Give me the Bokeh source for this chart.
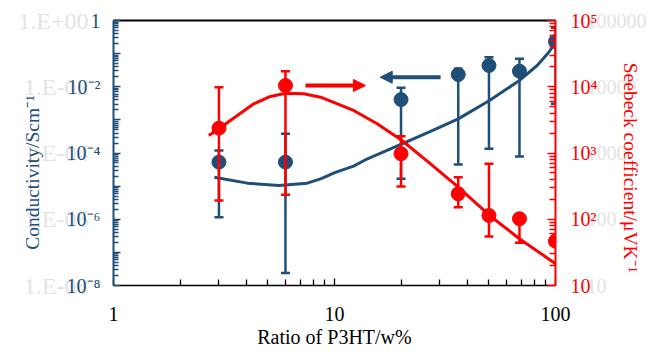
from bokeh.plotting import figure
from bokeh.models import Range1d, LogScale, LogAxis, FixedTicker, Arrow, NormalHead
from bokeh.embed import file_html
from bokeh.resources import INLINE

# ---------------- data ----------------
ratio = [3.0, 6.0, 20.0, 36.3, 50.0, 68.7, 100.0]

cond = [5.3e-5, 5.3e-5, 4.1e-3, 0.0234, 0.0438, 0.0295, 0.232]
cond_hi = [1.19e-4, 3.8e-4, 9.3e-3, 0.035, 0.078, 0.070, 0.6]
cond_lo = [1.15e-6, 2.4e-8, 1.66e-5, 4.5e-5, 1.34e-4, 7.8e-5, 3.05e-3]

seeb = [2370, 10450, 972, 242, 114, 102, 46.7]
seeb_hi = [9840, 17200, 1795, 431, 687, 110, 46.7]
seeb_lo = [192, 234, 312, 152, 55, 44, 46.7]

fit_cond_x = [2.86, 4.03, 5.6, 7.52, 8.65, 10.1, 12.2, 14.1, 20.2, 27.2, 36.3, 50.3, 68.7, 82.6, 93.3, 100]
fit_cond_y = [1.86e-5, 1.23e-5, 1.05e-5, 1.23e-5, 1.66e-5, 2.6e-5, 4.0e-5, 6.7e-5, 1.9e-4, 4.5e-4,
              1.07e-3, 3.85e-3, 0.0155, 0.0438, 0.110, 0.221]

fit_seeb_x = [2.70, 3.02, 4.31, 5.13, 6.0, 7.26, 8.65, 12.2, 15.6, 20.2, 27.2, 36.3, 50.3, 68.7, 100]
fit_seeb_y = [1837, 2366, 5530, 7130, 8000, 7830, 6950, 4390, 2760, 1545, 687, 305, 114, 50.7, 21.3]

arrow_red_x = [7.39, 13.8]
arrow_red_y = 10450
arrow_blue_x = [30.2, 16.1]
arrow_blue_y = 0.0194

x_ticks = [1.0, 10.0, 100.0]
x_labels = ["1", "10", "100"]

left_ticks = [1e-8, 1e-7, 1e-6, 1e-5, 1e-4, 1e-3, 1e-2, 1e-1, 1.0]
left_label_ticks = [1.0, 1e-2, 1e-4, 1e-6, 1e-8]
left_labels = ["1", "10\u207b\u00b2", "10\u207b\u2074", "10\u207b\u2076", "10\u207b\u2078"]
left_ghost = ["1.E+00", "1.E-02", "1.E-04", "1.E-06", "1.E-08"]

right_ticks = [10.0, 100.0, 1e3, 1e4, 1e5]
right_labels = ["10", "10\u00b2", "10\u00b3", "10\u2074", "10\u2075"]
right_ghost = ["10", "100", "1000", "10000", "100000"]

x_title = "Ratio of P3HT/w%"
left_title = "Conductivity/Scm\u207b\u00b9"
right_title = "Seebeck coefficient/\u03bcVK\u207b\u00b9"

# ---------------- style ----------------
BLUE = "#1F4E79"
RED = "#FF0000"
FONT = "Liberation Serif"
GHOST = "#e3e3e3"


def minor_between(ticks):
    out = []
    for t in ticks[:-1]:
        out += [t * k for k in range(2, 10)]
    return out


def overrides(all_ticks, lab_ticks, labels):
    ov = {t: "" for t in all_ticks}
    ov.update({t: l for t, l in zip(lab_ticks, labels)})
    return ov


def no_ticks(ax):
    ax.axis_line_color = None
    ax.major_tick_line_color = None
    ax.minor_tick_line_color = None
    ax.major_tick_in = 0
    ax.major_tick_out = 0
    ax.minor_tick_in = 0
    ax.minor_tick_out = 0


p = figure(width=649, height=354, x_axis_type="log", y_axis_type="log",
           x_range=Range1d(1, 100), y_range=Range1d(1e-8, 1),
           output_backend="svg", toolbar_location=None,
           min_border_left=113, min_border_right=94, min_border_top=20, min_border_bottom=69)
p.extra_y_ranges = {"seebeck": Range1d(10, 1e5)}
p.extra_y_scales = {"seebeck": LogScale()}
p.grid.visible = False
p.outline_line_color = None
p.background_fill_color = "white"
p.border_fill_color = "white"

# ---------------- bottom axis ----------------
xa = p.xaxis[0]
xa.ticker = FixedTicker(ticks=x_ticks, minor_ticks=minor_between(x_ticks))
xa.major_label_overrides = {t: l for t, l in zip(x_ticks, x_labels)}
xa.axis_line_color = "black"
xa.axis_line_width = 1.5
xa.major_tick_in = 7
xa.major_tick_out = 0
xa.minor_tick_in = 6
xa.minor_tick_out = 0
xa.major_tick_line_color = "black"
xa.minor_tick_line_color = "black"
xa.major_tick_line_width = 1.3
xa.minor_tick_line_width = 1.3
xa.major_label_text_font = FONT
xa.major_label_text_font_size = "20px"
xa.major_label_text_color = "black"
xa.major_label_standoff = 21
xa.axis_label = x_title
xa.axis_label_text_font = FONT
xa.axis_label_text_font_size = "20px"
xa.axis_label_text_font_style = "normal"
xa.axis_label_text_color = "black"
xa.axis_label_standoff = 2

# ---------------- left: inner axis (line, ticks, faint "1.E-0x" texts) ----------------
ya = p.yaxis[0]
ya.ticker = FixedTicker(ticks=left_ticks, minor_ticks=minor_between(left_ticks))
ya.major_label_overrides = overrides(left_ticks, left_label_ticks, left_ghost)
ya.axis_line_color = BLUE
ya.axis_line_width = 2
ya.major_tick_in = 7
ya.major_tick_out = 0
ya.minor_tick_in = 5
ya.minor_tick_out = 0
ya.major_tick_line_color = BLUE
ya.minor_tick_line_color = BLUE
ya.major_tick_line_width = 1.5
ya.minor_tick_line_width = 1.3
ya.major_label_text_font = FONT
ya.major_label_text_font_size = "24px"
ya.major_label_text_color = GHOST
ya.major_label_standoff = 25

# left: outer axis carrying the real tick labels and the title, pulled inwards
yb = LogAxis(ticker=FixedTicker(ticks=left_ticks, minor_ticks=[]))
no_ticks(yb)
yb.major_label_overrides = overrides(left_ticks, left_label_ticks, left_labels)
yb.major_label_text_font = FONT
yb.major_label_text_font_size = "20px"
yb.major_label_text_color = BLUE
yb.major_label_standoff = -85
yb.axis_label = left_title + "\u2003\u2003"
yb.axis_label_text_font = FONT
yb.axis_label_text_font_size = "19.5px"
yb.axis_label_text_font_style = "normal"
yb.axis_label_text_color = BLUE
yb.axis_label_standoff = 21
p.add_layout(yb, "left")

# ---------------- right: inner axis (line, ticks, faint texts) ----------------
ra = LogAxis(y_range_name="seebeck",
             ticker=FixedTicker(ticks=right_ticks, minor_ticks=minor_between(right_ticks)))
ra.major_label_overrides = {t: l for t, l in zip(right_ticks, right_ghost)}
ra.axis_line_color = RED
ra.axis_line_width = 2
ra.major_tick_in = 8
ra.major_tick_out = 0
ra.minor_tick_in = 6
ra.minor_tick_out = 0
ra.major_tick_line_color = RED
ra.minor_tick_line_color = RED
ra.major_tick_line_width = 1.5
ra.minor_tick_line_width = 1.3
ra.major_label_text_font = FONT
ra.major_label_text_font_size = "20px"
ra.major_label_text_color = GHOST
ra.major_label_standoff = 31
p.add_layout(ra, "right")

# right: outer axis with real labels and title
rb = LogAxis(y_range_name="seebeck", ticker=FixedTicker(ticks=right_ticks, minor_ticks=[]))
no_ticks(rb)
rb.major_label_overrides = {t: l for t, l in zip(right_ticks, right_labels)}
rb.major_label_text_font = FONT
rb.major_label_text_font_size = "20px"
rb.major_label_text_color = RED
rb.major_label_standoff = -79
rb.axis_label = "\u2003\u2002" + right_title
rb.axis_label_text_font = FONT
rb.axis_label_text_font_size = "19.5px"
rb.axis_label_text_font_style = "normal"
rb.axis_label_text_color = RED
rb.axis_label_standoff = 20
p.add_layout(rb, "right")

# top border
ta = LogAxis(ticker=FixedTicker(ticks=[]), axis_line_color="black", axis_line_width=2,
             major_tick_line_color=None, minor_tick_line_color=None,
             major_label_text_font_size="0px", major_label_standoff=0)
p.add_layout(ta, "above")

# ---------------- conductivity (blue) ----------------
p.segment(x0=ratio, y0=cond_lo, x1=ratio, y1=cond_hi, line_color=BLUE, line_width=2.5)
p.scatter(ratio + ratio, cond_lo + cond_hi, marker="dash", size=9, line_color=BLUE, line_width=2.5)
p.line(fit_cond_x, fit_cond_y, line_color=BLUE, line_width=3)
p.scatter(ratio, cond, size=14, fill_color=BLUE, line_color=BLUE)

# ---------------- Seebeck (red) ----------------
p.segment(x0=ratio, y0=seeb_lo, x1=ratio, y1=seeb_hi, line_color=RED, line_width=2.5,
          y_range_name="seebeck")
p.scatter(ratio + ratio, seeb_lo + seeb_hi, marker="dash", size=9, line_color=RED, line_width=2.5,
          y_range_name="seebeck")
p.line(fit_seeb_x, fit_seeb_y, line_color=RED, line_width=3, y_range_name="seebeck")
p.scatter(ratio, seeb, size=14, fill_color=RED, line_color=RED, y_range_name="seebeck")

# arrows
p.add_layout(Arrow(end=NormalHead(size=12, fill_color=RED, line_color=RED, line_width=1),
                   x_start=arrow_red_x[0], y_start=arrow_red_y, x_end=arrow_red_x[1], y_end=arrow_red_y,
                   line_color=RED, line_width=4, y_range_name="seebeck"))
p.add_layout(Arrow(end=NormalHead(size=12, fill_color=BLUE, line_color=BLUE, line_width=1),
                   x_start=arrow_blue_x[0], y_start=arrow_blue_y, x_end=arrow_blue_x[1], y_end=arrow_blue_y,
                   line_color=BLUE, line_width=4))

open("out.html", "w").write(file_html(p, INLINE))
